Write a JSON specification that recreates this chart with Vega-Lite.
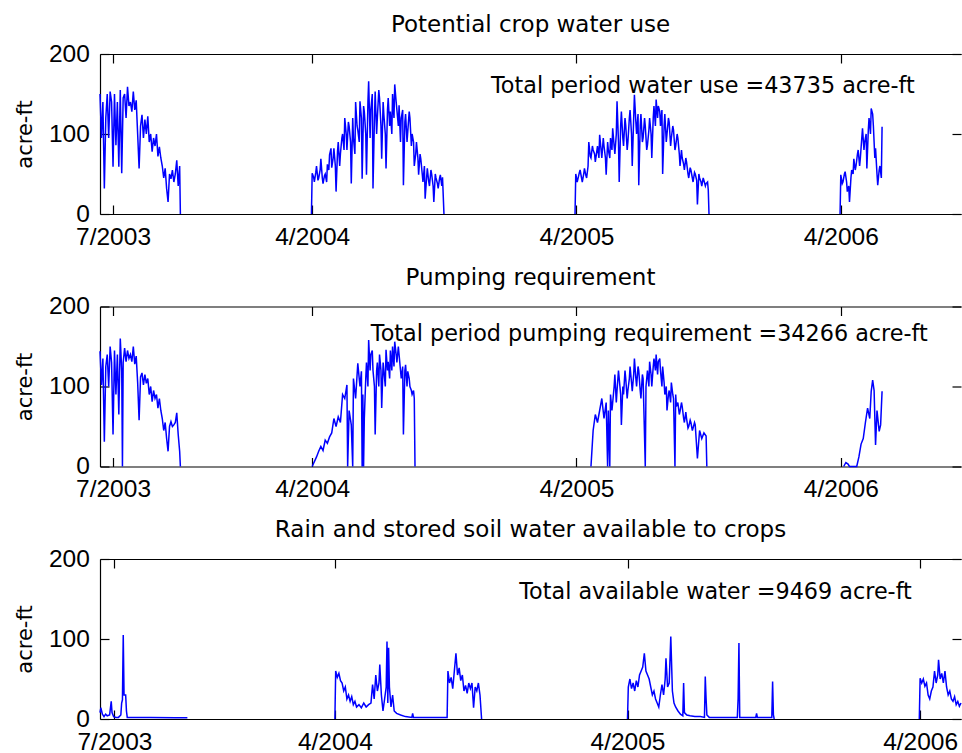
{
  "$schema": "https://vega.github.io/schema/vega-lite/v6.json",
  "padding": {"left": 14, "top": 14, "right": 0, "bottom": 0},
  "bounds": "flush",
  "spacing": 92.5,
  "config": {
    "font": "DejaVu Sans",
    "view": {"stroke": null},
    "axis": {"grid": false, "domainColor": "#000", "tickColor": "#000", "labelColor": "#000", "titleColor": "#000", "labelFont": "Liberation Sans", "labelFontSize": 24.5, "titleFontSize": 21, "titleFontWeight": "normal", "tickSize": -9, "zindex": 1, "labelFlush": false, "labelOverlap": false, "labelBound": false, "domainWidth": 1.2, "tickWidth": 1.2},
    "title": {"fontSize": 23, "fontWeight": "normal", "color": "#000", "anchor": "middle", "baseline": "alphabetic", "offset": 4, "frame": "group"}
  },
  "datasets": {
    "p1": [
      {"d":"2003-06-13","v":150},{"d":"2003-06-15","v":95},{"d":"2003-06-17","v":140},{"d":"2003-06-19","v":32},{"d":"2003-06-21","v":120},{"d":"2003-06-23","v":150},{"d":"2003-06-25","v":95},{"d":"2003-06-27","v":153},{"d":"2003-06-29","v":140},{"d":"2003-07-01","v":59},{"d":"2003-07-03","v":150},{"d":"2003-07-05","v":86},{"d":"2003-07-07","v":140},{"d":"2003-07-09","v":59},{"d":"2003-07-11","v":155},{"d":"2003-07-13","v":51},{"d":"2003-07-15","v":145},{"d":"2003-07-17","v":150},{"d":"2003-07-19","v":120},{"d":"2003-07-21","v":159},{"d":"2003-07-23","v":135},{"d":"2003-07-25","v":140},{"d":"2003-07-27","v":128},{"d":"2003-07-29","v":153},{"d":"2003-07-31","v":130},{"d":"2003-08-02","v":142},{"d":"2003-08-04","v":100},{"d":"2003-08-06","v":57},{"d":"2003-08-08","v":110},{"d":"2003-08-10","v":124},{"d":"2003-08-12","v":95},{"d":"2003-08-14","v":118},{"d":"2003-08-16","v":100},{"d":"2003-08-18","v":122},{"d":"2003-08-20","v":90},{"d":"2003-08-22","v":100},{"d":"2003-08-24","v":78},{"d":"2003-08-26","v":95},{"d":"2003-08-28","v":85},{"d":"2003-08-30","v":100},{"d":"2003-09-01","v":72},{"d":"2003-09-03","v":84},{"d":"2003-09-05","v":70},{"d":"2003-09-07","v":60},{"d":"2003-09-09","v":45},{"d":"2003-09-11","v":57},{"d":"2003-09-13","v":32},{"d":"2003-09-15","v":15},{"d":"2003-09-17","v":50},{"d":"2003-09-19","v":44},{"d":"2003-09-21","v":55},{"d":"2003-09-23","v":40},{"d":"2003-09-25","v":50},{"d":"2003-09-27","v":67},{"d":"2003-09-29","v":35},{"d":"2003-10-01","v":60},{"d":"2003-10-02","v":0},
      {"d":"2003-12-01","v":null},
      {"d":"2004-03-31","v":0},{"d":"2004-04-01","v":51},{"d":"2004-04-03","v":46},{"d":"2004-04-04","v":40},{"d":"2004-04-06","v":52},{"d":"2004-04-07","v":60},{"d":"2004-04-09","v":42},{"d":"2004-04-10","v":45},{"d":"2004-04-12","v":55},{"d":"2004-04-13","v":69},{"d":"2004-04-15","v":45},{"d":"2004-04-16","v":38},{"d":"2004-04-18","v":48},{"d":"2004-04-19","v":50},{"d":"2004-04-21","v":40},{"d":"2004-04-22","v":62},{"d":"2004-04-24","v":55},{"d":"2004-04-25","v":74},{"d":"2004-04-27","v":82},{"d":"2004-04-28","v":58},{"d":"2004-04-30","v":70},{"d":"2004-05-01","v":82},{"d":"2004-05-03","v":60},{"d":"2004-05-04","v":28},{"d":"2004-05-06","v":78},{"d":"2004-05-07","v":90},{"d":"2004-05-09","v":60},{"d":"2004-05-10","v":75},{"d":"2004-05-12","v":95},{"d":"2004-05-13","v":100},{"d":"2004-05-15","v":80},{"d":"2004-05-16","v":120},{"d":"2004-05-18","v":100},{"d":"2004-05-19","v":80},{"d":"2004-05-21","v":115},{"d":"2004-05-22","v":110},{"d":"2004-05-24","v":90},{"d":"2004-05-25","v":38},{"d":"2004-05-27","v":120},{"d":"2004-05-28","v":95},{"d":"2004-05-30","v":75},{"d":"2004-05-31","v":140},{"d":"2004-06-02","v":110},{"d":"2004-06-03","v":105},{"d":"2004-06-05","v":90},{"d":"2004-06-06","v":141},{"d":"2004-06-08","v":120},{"d":"2004-06-09","v":44},{"d":"2004-06-11","v":135},{"d":"2004-06-12","v":128},{"d":"2004-06-14","v":100},{"d":"2004-06-15","v":49},{"d":"2004-06-17","v":140},{"d":"2004-06-18","v":166},{"d":"2004-06-20","v":95},{"d":"2004-06-21","v":130},{"d":"2004-06-23","v":150},{"d":"2004-06-24","v":32},{"d":"2004-06-26","v":120},{"d":"2004-06-27","v":153},{"d":"2004-06-29","v":100},{"d":"2004-06-30","v":120},{"d":"2004-07-02","v":155},{"d":"2004-07-03","v":145},{"d":"2004-07-05","v":110},{"d":"2004-07-06","v":69},{"d":"2004-07-08","v":140},{"d":"2004-07-09","v":124},{"d":"2004-07-11","v":100},{"d":"2004-07-12","v":57},{"d":"2004-07-14","v":130},{"d":"2004-07-15","v":145},{"d":"2004-07-17","v":110},{"d":"2004-07-18","v":128},{"d":"2004-07-20","v":100},{"d":"2004-07-21","v":150},{"d":"2004-07-23","v":120},{"d":"2004-07-24","v":162},{"d":"2004-07-26","v":140},{"d":"2004-07-27","v":130},{"d":"2004-07-29","v":110},{"d":"2004-07-30","v":136},{"d":"2004-08-01","v":90},{"d":"2004-08-02","v":120},{"d":"2004-08-04","v":130},{"d":"2004-08-05","v":36},{"d":"2004-08-07","v":115},{"d":"2004-08-08","v":125},{"d":"2004-08-10","v":90},{"d":"2004-08-11","v":103},{"d":"2004-08-13","v":128},{"d":"2004-08-14","v":120},{"d":"2004-08-16","v":85},{"d":"2004-08-17","v":100},{"d":"2004-08-19","v":90},{"d":"2004-08-20","v":60},{"d":"2004-08-22","v":75},{"d":"2004-08-23","v":90},{"d":"2004-08-25","v":70},{"d":"2004-08-26","v":49},{"d":"2004-08-28","v":75},{"d":"2004-08-29","v":69},{"d":"2004-08-31","v":50},{"d":"2004-09-01","v":40},{"d":"2004-09-03","v":60},{"d":"2004-09-04","v":19},{"d":"2004-09-06","v":45},{"d":"2004-09-07","v":57},{"d":"2004-09-09","v":40},{"d":"2004-09-10","v":35},{"d":"2004-09-12","v":55},{"d":"2004-09-13","v":50},{"d":"2004-09-15","v":35},{"d":"2004-09-16","v":15},{"d":"2004-09-18","v":50},{"d":"2004-09-19","v":45},{"d":"2004-09-21","v":38},{"d":"2004-09-22","v":32},{"d":"2004-09-24","v":45},{"d":"2004-09-25","v":49},{"d":"2004-09-27","v":35},{"d":"2004-09-28","v":46},{"d":"2004-09-30","v":0},
      {"d":"2004-12-01","v":null},
      {"d":"2005-03-30","v":0},{"d":"2005-03-31","v":50},{"d":"2005-04-02","v":40},{"d":"2005-04-03","v":44},{"d":"2005-04-05","v":52},{"d":"2005-04-06","v":55},{"d":"2005-04-08","v":45},{"d":"2005-04-09","v":40},{"d":"2005-04-11","v":50},{"d":"2005-04-12","v":57},{"d":"2005-04-14","v":48},{"d":"2005-04-15","v":45},{"d":"2005-04-17","v":60},{"d":"2005-04-18","v":90},{"d":"2005-04-20","v":72},{"d":"2005-04-21","v":70},{"d":"2005-04-23","v":85},{"d":"2005-04-24","v":80},{"d":"2005-04-26","v":75},{"d":"2005-04-27","v":65},{"d":"2005-04-29","v":78},{"d":"2005-04-30","v":85},{"d":"2005-05-02","v":70},{"d":"2005-05-03","v":99},{"d":"2005-05-05","v":80},{"d":"2005-05-06","v":70},{"d":"2005-05-08","v":95},{"d":"2005-05-09","v":85},{"d":"2005-05-11","v":70},{"d":"2005-05-12","v":49},{"d":"2005-05-14","v":90},{"d":"2005-05-15","v":80},{"d":"2005-05-17","v":70},{"d":"2005-05-18","v":95},{"d":"2005-05-20","v":80},{"d":"2005-05-21","v":107},{"d":"2005-05-23","v":85},{"d":"2005-05-24","v":75},{"d":"2005-05-26","v":100},{"d":"2005-05-27","v":141},{"d":"2005-05-29","v":90},{"d":"2005-05-30","v":40},{"d":"2005-06-01","v":110},{"d":"2005-06-02","v":128},{"d":"2005-06-04","v":95},{"d":"2005-06-05","v":85},{"d":"2005-06-07","v":120},{"d":"2005-06-08","v":111},{"d":"2005-06-10","v":80},{"d":"2005-06-11","v":90},{"d":"2005-06-13","v":120},{"d":"2005-06-14","v":130},{"d":"2005-06-16","v":100},{"d":"2005-06-17","v":60},{"d":"2005-06-19","v":120},{"d":"2005-06-20","v":149},{"d":"2005-06-22","v":115},{"d":"2005-06-23","v":100},{"d":"2005-06-25","v":125},{"d":"2005-06-26","v":36},{"d":"2005-06-28","v":110},{"d":"2005-06-29","v":125},{"d":"2005-07-01","v":90},{"d":"2005-07-02","v":95},{"d":"2005-07-04","v":120},{"d":"2005-07-05","v":110},{"d":"2005-07-07","v":80},{"d":"2005-07-08","v":86},{"d":"2005-07-10","v":105},{"d":"2005-07-11","v":120},{"d":"2005-07-13","v":100},{"d":"2005-07-14","v":70},{"d":"2005-07-16","v":120},{"d":"2005-07-17","v":135},{"d":"2005-07-19","v":110},{"d":"2005-07-20","v":143},{"d":"2005-07-22","v":120},{"d":"2005-07-23","v":135},{"d":"2005-07-25","v":128},{"d":"2005-07-26","v":110},{"d":"2005-07-28","v":130},{"d":"2005-07-29","v":50},{"d":"2005-07-31","v":110},{"d":"2005-08-01","v":125},{"d":"2005-08-03","v":90},{"d":"2005-08-04","v":100},{"d":"2005-08-06","v":120},{"d":"2005-08-07","v":115},{"d":"2005-08-09","v":85},{"d":"2005-08-10","v":95},{"d":"2005-08-12","v":110},{"d":"2005-08-13","v":105},{"d":"2005-08-15","v":80},{"d":"2005-08-16","v":85},{"d":"2005-08-18","v":100},{"d":"2005-08-19","v":95},{"d":"2005-08-21","v":75},{"d":"2005-08-22","v":60},{"d":"2005-08-24","v":80},{"d":"2005-08-25","v":70},{"d":"2005-08-27","v":62},{"d":"2005-08-28","v":55},{"d":"2005-08-30","v":70},{"d":"2005-08-31","v":65},{"d":"2005-09-02","v":50},{"d":"2005-09-03","v":45},{"d":"2005-09-05","v":58},{"d":"2005-09-06","v":55},{"d":"2005-09-08","v":45},{"d":"2005-09-09","v":40},{"d":"2005-09-11","v":52},{"d":"2005-09-12","v":50},{"d":"2005-09-14","v":42},{"d":"2005-09-15","v":12},{"d":"2005-09-17","v":50},{"d":"2005-09-18","v":45},{"d":"2005-09-20","v":40},{"d":"2005-09-21","v":35},{"d":"2005-09-23","v":45},{"d":"2005-09-24","v":42},{"d":"2005-09-26","v":35},{"d":"2005-09-27","v":38},{"d":"2005-09-29","v":40},{"d":"2005-09-30","v":30},{"d":"2005-10-01","v":0},
      {"d":"2005-12-01","v":null},
      {"d":"2006-03-31","v":0},{"d":"2006-04-01","v":49},{"d":"2006-04-03","v":38},{"d":"2006-04-04","v":40},{"d":"2006-04-06","v":50},{"d":"2006-04-07","v":53},{"d":"2006-04-09","v":40},{"d":"2006-04-10","v":28},{"d":"2006-04-12","v":35},{"d":"2006-04-13","v":15},{"d":"2006-04-15","v":45},{"d":"2006-04-16","v":55},{"d":"2006-04-18","v":50},{"d":"2006-04-19","v":69},{"d":"2006-04-21","v":55},{"d":"2006-04-22","v":60},{"d":"2006-04-24","v":75},{"d":"2006-04-25","v":80},{"d":"2006-04-27","v":60},{"d":"2006-04-28","v":70},{"d":"2006-04-30","v":95},{"d":"2006-05-01","v":107},{"d":"2006-05-03","v":80},{"d":"2006-05-04","v":90},{"d":"2006-05-06","v":100},{"d":"2006-05-07","v":57},{"d":"2006-05-09","v":105},{"d":"2006-05-10","v":120},{"d":"2006-05-12","v":100},{"d":"2006-05-13","v":132},{"d":"2006-05-15","v":125},{"d":"2006-05-16","v":110},{"d":"2006-05-18","v":70},{"d":"2006-05-19","v":82},{"d":"2006-05-21","v":50},{"d":"2006-05-22","v":36},{"d":"2006-05-24","v":55},{"d":"2006-05-25","v":60},{"d":"2006-05-27","v":45},{"d":"2006-05-28","v":109}
    ],
    "p2": [
      {"d":"2003-06-13","v":144},{"d":"2003-06-15","v":102},{"d":"2003-06-17","v":135},{"d":"2003-06-19","v":31},{"d":"2003-06-21","v":125},{"d":"2003-06-23","v":140},{"d":"2003-06-25","v":100},{"d":"2003-06-27","v":150},{"d":"2003-06-29","v":130},{"d":"2003-07-01","v":40},{"d":"2003-07-03","v":145},{"d":"2003-07-05","v":90},{"d":"2003-07-07","v":140},{"d":"2003-07-09","v":65},{"d":"2003-07-11","v":160},{"d":"2003-07-13","v":120},{"d":"2003-07-14","v":0},{"d":"2003-07-15","v":130},{"d":"2003-07-17","v":148},{"d":"2003-07-19","v":131},{"d":"2003-07-21","v":145},{"d":"2003-07-23","v":135},{"d":"2003-07-25","v":140},{"d":"2003-07-27","v":131},{"d":"2003-07-29","v":150},{"d":"2003-07-31","v":128},{"d":"2003-08-02","v":138},{"d":"2003-08-04","v":105},{"d":"2003-08-06","v":58},{"d":"2003-08-08","v":112},{"d":"2003-08-10","v":117},{"d":"2003-08-12","v":102},{"d":"2003-08-14","v":115},{"d":"2003-08-16","v":104},{"d":"2003-08-18","v":110},{"d":"2003-08-20","v":90},{"d":"2003-08-22","v":100},{"d":"2003-08-24","v":81},{"d":"2003-08-26","v":95},{"d":"2003-08-28","v":85},{"d":"2003-08-30","v":90},{"d":"2003-09-01","v":73},{"d":"2003-09-03","v":85},{"d":"2003-09-05","v":70},{"d":"2003-09-07","v":60},{"d":"2003-09-09","v":45},{"d":"2003-09-11","v":55},{"d":"2003-09-13","v":35},{"d":"2003-09-15","v":19},{"d":"2003-09-17","v":50},{"d":"2003-09-19","v":56},{"d":"2003-09-21","v":50},{"d":"2003-09-23","v":52},{"d":"2003-09-25","v":55},{"d":"2003-09-27","v":67},{"d":"2003-09-29","v":40},{"d":"2003-10-01","v":19},{"d":"2003-10-02","v":0},
      {"d":"2003-12-01","v":null},
      {"d":"2004-04-01","v":0},{"d":"2004-04-03","v":4},{"d":"2004-04-05","v":8},{"d":"2004-04-07","v":12},{"d":"2004-04-10","v":19},{"d":"2004-04-13","v":25},{"d":"2004-04-16","v":20},{"d":"2004-04-19","v":33},{"d":"2004-04-22","v":29},{"d":"2004-04-25","v":37},{"d":"2004-04-28","v":42},{"d":"2004-05-01","v":60},{"d":"2004-05-04","v":50},{"d":"2004-05-07","v":62},{"d":"2004-05-10","v":55},{"d":"2004-05-13","v":90},{"d":"2004-05-16","v":85},{"d":"2004-05-19","v":102},{"d":"2004-05-20","v":0},{"d":"2004-05-22","v":70},{"d":"2004-05-25","v":52},{"d":"2004-05-27","v":0},{"d":"2004-05-28","v":110},{"d":"2004-05-31","v":85},{"d":"2004-06-03","v":129},{"d":"2004-06-06","v":100},{"d":"2004-06-08","v":119},{"d":"2004-06-09","v":0},{"d":"2004-06-10","v":90},{"d":"2004-06-11","v":0},{"d":"2004-06-12","v":60},{"d":"2004-06-14","v":110},{"d":"2004-06-15","v":130},{"d":"2004-06-17","v":100},{"d":"2004-06-18","v":158},{"d":"2004-06-20","v":120},{"d":"2004-06-21","v":140},{"d":"2004-06-23","v":145},{"d":"2004-06-24","v":120},{"d":"2004-06-26","v":100},{"d":"2004-06-27","v":40},{"d":"2004-06-29","v":120},{"d":"2004-06-30","v":130},{"d":"2004-07-02","v":100},{"d":"2004-07-03","v":140},{"d":"2004-07-05","v":120},{"d":"2004-07-06","v":73},{"d":"2004-07-08","v":130},{"d":"2004-07-09","v":120},{"d":"2004-07-11","v":100},{"d":"2004-07-12","v":146},{"d":"2004-07-14","v":120},{"d":"2004-07-15","v":131},{"d":"2004-07-17","v":110},{"d":"2004-07-18","v":145},{"d":"2004-07-20","v":120},{"d":"2004-07-21","v":150},{"d":"2004-07-23","v":125},{"d":"2004-07-24","v":156},{"d":"2004-07-26","v":140},{"d":"2004-07-27","v":130},{"d":"2004-07-29","v":150},{"d":"2004-07-30","v":140},{"d":"2004-08-01","v":120},{"d":"2004-08-02","v":110},{"d":"2004-08-04","v":125},{"d":"2004-08-05","v":40},{"d":"2004-08-07","v":120},{"d":"2004-08-08","v":127},{"d":"2004-08-10","v":100},{"d":"2004-08-11","v":119},{"d":"2004-08-13","v":110},{"d":"2004-08-14","v":100},{"d":"2004-08-16","v":95},{"d":"2004-08-17","v":90},{"d":"2004-08-19","v":95},{"d":"2004-08-20","v":85},{"d":"2004-08-21","v":0},
      {"d":"2004-12-01","v":null},
      {"d":"2005-04-21","v":0},{"d":"2005-04-24","v":45},{"d":"2005-04-27","v":65},{"d":"2005-04-30","v":55},{"d":"2005-05-03","v":70},{"d":"2005-05-06","v":85},{"d":"2005-05-09","v":60},{"d":"2005-05-12","v":80},{"d":"2005-05-14","v":0},{"d":"2005-05-15","v":70},{"d":"2005-05-17","v":0},{"d":"2005-05-18","v":90},{"d":"2005-05-20","v":70},{"d":"2005-05-21","v":80},{"d":"2005-05-23","v":100},{"d":"2005-05-24","v":115},{"d":"2005-05-26","v":80},{"d":"2005-05-27","v":95},{"d":"2005-05-29","v":120},{"d":"2005-05-30","v":110},{"d":"2005-06-01","v":90},{"d":"2005-06-02","v":52},{"d":"2005-06-04","v":100},{"d":"2005-06-05","v":90},{"d":"2005-06-07","v":120},{"d":"2005-06-08","v":110},{"d":"2005-06-10","v":85},{"d":"2005-06-11","v":95},{"d":"2005-06-13","v":110},{"d":"2005-06-14","v":125},{"d":"2005-06-16","v":105},{"d":"2005-06-17","v":94},{"d":"2005-06-19","v":115},{"d":"2005-06-20","v":135},{"d":"2005-06-22","v":110},{"d":"2005-06-23","v":100},{"d":"2005-06-25","v":125},{"d":"2005-06-26","v":120},{"d":"2005-06-28","v":95},{"d":"2005-06-29","v":85},{"d":"2005-07-01","v":115},{"d":"2005-07-02","v":110},{"d":"2005-07-05","v":0},{"d":"2005-07-06","v":100},{"d":"2005-07-08","v":120},{"d":"2005-07-10","v":100},{"d":"2005-07-11","v":131},{"d":"2005-07-13","v":115},{"d":"2005-07-14","v":100},{"d":"2005-07-16","v":125},{"d":"2005-07-17","v":135},{"d":"2005-07-19","v":120},{"d":"2005-07-20","v":140},{"d":"2005-07-22","v":115},{"d":"2005-07-23","v":131},{"d":"2005-07-25","v":135},{"d":"2005-07-26","v":120},{"d":"2005-07-28","v":100},{"d":"2005-07-29","v":125},{"d":"2005-07-31","v":105},{"d":"2005-08-01","v":90},{"d":"2005-08-03","v":100},{"d":"2005-08-04","v":70},{"d":"2005-08-06","v":90},{"d":"2005-08-07","v":95},{"d":"2005-08-09","v":80},{"d":"2005-08-10","v":105},{"d":"2005-08-12","v":90},{"d":"2005-08-13","v":85},{"d":"2005-08-15","v":0},{"d":"2005-08-16","v":90},{"d":"2005-08-17","v":75},{"d":"2005-08-19","v":80},{"d":"2005-08-21","v":65},{"d":"2005-08-22","v":69},{"d":"2005-08-24","v":80},{"d":"2005-08-25","v":75},{"d":"2005-08-27","v":60},{"d":"2005-08-28","v":55},{"d":"2005-08-30","v":68},{"d":"2005-08-31","v":60},{"d":"2005-09-02","v":48},{"d":"2005-09-03","v":50},{"d":"2005-09-05","v":58},{"d":"2005-09-06","v":55},{"d":"2005-09-08","v":45},{"d":"2005-09-09","v":48},{"d":"2005-09-11","v":55},{"d":"2005-09-12","v":52},{"d":"2005-09-15","v":10},{"d":"2005-09-18","v":45},{"d":"2005-09-21","v":35},{"d":"2005-09-24","v":42},{"d":"2005-09-27","v":38},{"d":"2005-09-28","v":0},
      {"d":"2005-12-01","v":null},
      {"d":"2006-04-05","v":0},{"d":"2006-04-08","v":5},{"d":"2006-04-11","v":3},{"d":"2006-04-13","v":0},{"d":"2006-04-23","v":0},{"d":"2006-04-26","v":12},{"d":"2006-04-29","v":28},{"d":"2006-05-02","v":35},{"d":"2006-05-05","v":55},{"d":"2006-05-08","v":73},{"d":"2006-05-11","v":60},{"d":"2006-05-13","v":94},{"d":"2006-05-15","v":108},{"d":"2006-05-17","v":95},{"d":"2006-05-19","v":27},{"d":"2006-05-21","v":70},{"d":"2006-05-24","v":44},{"d":"2006-05-26","v":52},{"d":"2006-05-28","v":94}
    ],
    "p3": [
      {"d":"2003-06-13","v":8},{"d":"2003-06-14","v":14},{"d":"2003-06-16","v":6},{"d":"2003-06-18","v":3},{"d":"2003-06-20","v":6},{"d":"2003-06-22","v":4},{"d":"2003-06-25","v":5},{"d":"2003-06-27","v":22},{"d":"2003-06-28","v":8},{"d":"2003-06-30","v":3},{"d":"2003-07-03","v":2},{"d":"2003-07-06","v":2},{"d":"2003-07-09","v":5},{"d":"2003-07-10","v":20},{"d":"2003-07-11","v":24},{"d":"2003-07-12","v":105},{"d":"2003-07-13","v":30},{"d":"2003-07-15","v":30},{"d":"2003-07-16","v":10},{"d":"2003-07-17","v":2},{"d":"2003-08-15","v":2},{"d":"2003-09-15","v":1.5},{"d":"2003-09-30","v":1.5},
      {"d":"2003-12-01","v":null},
      {"d":"2004-04-01","v":0},{"d":"2004-04-02","v":60},{"d":"2004-04-04","v":52},{"d":"2004-04-06","v":57},{"d":"2004-04-08","v":48},{"d":"2004-04-10","v":45},{"d":"2004-04-12","v":35},{"d":"2004-04-14","v":40},{"d":"2004-04-16","v":25},{"d":"2004-04-18","v":30},{"d":"2004-04-20","v":22},{"d":"2004-04-22","v":28},{"d":"2004-04-24","v":18},{"d":"2004-04-26","v":22},{"d":"2004-04-28","v":15},{"d":"2004-05-01","v":18},{"d":"2004-05-04","v":14},{"d":"2004-05-07","v":20},{"d":"2004-05-10","v":15},{"d":"2004-05-13","v":18},{"d":"2004-05-16","v":20},{"d":"2004-05-18","v":43},{"d":"2004-05-20","v":25},{"d":"2004-05-22","v":55},{"d":"2004-05-24","v":35},{"d":"2004-05-26","v":45},{"d":"2004-05-27","v":68},{"d":"2004-05-29","v":30},{"d":"2004-05-31","v":10},{"d":"2004-06-02","v":25},{"d":"2004-06-04","v":40},{"d":"2004-06-05","v":97},{"d":"2004-06-06","v":20},{"d":"2004-06-07","v":89},{"d":"2004-06-08","v":40},{"d":"2004-06-10","v":15},{"d":"2004-06-12","v":30},{"d":"2004-06-14","v":10},{"d":"2004-06-17","v":7},{"d":"2004-06-22","v":5},{"d":"2004-06-28","v":3},{"d":"2004-07-06","v":2},{"d":"2004-07-07","v":7},{"d":"2004-07-08","v":2},{"d":"2004-08-19","v":2},{"d":"2004-08-20","v":60},{"d":"2004-08-22","v":45},{"d":"2004-08-24","v":52},{"d":"2004-08-26","v":38},{"d":"2004-08-28","v":60},{"d":"2004-08-30","v":82},{"d":"2004-09-01","v":55},{"d":"2004-09-03","v":64},{"d":"2004-09-05","v":48},{"d":"2004-09-07","v":55},{"d":"2004-09-09","v":35},{"d":"2004-09-11","v":42},{"d":"2004-09-13","v":32},{"d":"2004-09-15","v":45},{"d":"2004-09-17","v":38},{"d":"2004-09-19","v":45},{"d":"2004-09-21","v":14},{"d":"2004-09-23","v":40},{"d":"2004-09-25","v":35},{"d":"2004-09-27","v":45},{"d":"2004-09-29","v":30},{"d":"2004-10-01","v":0},
      {"d":"2004-12-01","v":null},
      {"d":"2005-04-01","v":0},{"d":"2005-04-02","v":40},{"d":"2005-04-04","v":50},{"d":"2005-04-06","v":38},{"d":"2005-04-08","v":45},{"d":"2005-04-10","v":35},{"d":"2005-04-12","v":48},{"d":"2005-04-14","v":40},{"d":"2005-04-16","v":55},{"d":"2005-04-18","v":60},{"d":"2005-04-20","v":65},{"d":"2005-04-22","v":82},{"d":"2005-04-24","v":60},{"d":"2005-04-26","v":55},{"d":"2005-04-28","v":50},{"d":"2005-04-30","v":40},{"d":"2005-05-02","v":30},{"d":"2005-05-04","v":35},{"d":"2005-05-06","v":25},{"d":"2005-05-08","v":20},{"d":"2005-05-10","v":15},{"d":"2005-05-12","v":30},{"d":"2005-05-14","v":43},{"d":"2005-05-16","v":30},{"d":"2005-05-18","v":50},{"d":"2005-05-19","v":76},{"d":"2005-05-21","v":40},{"d":"2005-05-23","v":45},{"d":"2005-05-25","v":103},{"d":"2005-05-27","v":35},{"d":"2005-05-29","v":20},{"d":"2005-05-31","v":15},{"d":"2005-06-03","v":10},{"d":"2005-06-06","v":6},{"d":"2005-06-09","v":4},{"d":"2005-06-10","v":45},{"d":"2005-06-11","v":8},{"d":"2005-06-14","v":5},{"d":"2005-06-18","v":4},{"d":"2005-06-24","v":3},{"d":"2005-07-01","v":3},{"d":"2005-07-06","v":2},{"d":"2005-07-07","v":53},{"d":"2005-07-08","v":26},{"d":"2005-07-09","v":5},{"d":"2005-07-12","v":2},{"d":"2005-08-16","v":2},{"d":"2005-08-17","v":26},{"d":"2005-08-18","v":95},{"d":"2005-08-19","v":2},{"d":"2005-09-08","v":2},{"d":"2005-09-09","v":7},{"d":"2005-09-10","v":2},{"d":"2005-09-28","v":2},{"d":"2005-09-29","v":47},{"d":"2005-09-30","v":5},{"d":"2005-10-01","v":0},
      {"d":"2005-12-01","v":null},
      {"d":"2006-03-31","v":0},{"d":"2006-04-01","v":51},{"d":"2006-04-03","v":45},{"d":"2006-04-05","v":50},{"d":"2006-04-07","v":41},{"d":"2006-04-09","v":45},{"d":"2006-04-11","v":30},{"d":"2006-04-13","v":25},{"d":"2006-04-15","v":35},{"d":"2006-04-17","v":40},{"d":"2006-04-19","v":60},{"d":"2006-04-21","v":45},{"d":"2006-04-23","v":55},{"d":"2006-04-24","v":74},{"d":"2006-04-26","v":50},{"d":"2006-04-28","v":57},{"d":"2006-04-30","v":45},{"d":"2006-05-02","v":60},{"d":"2006-05-04","v":40},{"d":"2006-05-06","v":30},{"d":"2006-05-08","v":35},{"d":"2006-05-10","v":25},{"d":"2006-05-12","v":22},{"d":"2006-05-14","v":28},{"d":"2006-05-16","v":18},{"d":"2006-05-18","v":22},{"d":"2006-05-20","v":16},{"d":"2006-05-22","v":20}
    ]
  },
  "vconcat": [
    {
      "width": 861, "height": 160,
      "title": {"text": "Potential crop water use"},
      "layer": [
        {
          "data": {"name": "p1"},
          "mark": {"type": "line", "color": "#0000ff", "strokeWidth": 1.5},
          "encoding": {
            "x": {"field": "d", "type": "temporal", "scale": {"domain": [{"year": 2003, "month": 6, "date": 13}, {"year": 2006, "month": 9, "date": 14}], "nice": false},
                  "axis": {"orient": "bottom", "title": null, "format": "%-m/%Y", "labelPadding": 20.3, "values": [{"year": 2003, "month": 7, "date": 1}, {"year": 2004, "month": 4, "date": 1}, {"year": 2005, "month": 4, "date": 1}, {"year": 2006, "month": 4, "date": 1}]}},
            "y": {"field": "v", "type": "quantitative", "scale": {"domain": [0, 200], "nice": false},
                  "axis": {"orient": "left", "values": [0, 100, 200], "labelPadding": 19.7, "title": "acre-ft", "titleX": -69, "titleY": 80, "titleAngle": -90, "titleBaseline": "alphabetic", "titleAlign": "center"}}
          }
        },
        {
          "data": {"values": [{"d": "2004-12-04", "v": 151, "t": "Total period water use =43735 acre-ft"}]},
          "mark": {"type": "text", "align": "left", "baseline": "alphabetic", "fontSize": 22.3, "color": "#000"},
          "encoding": {
            "x": {"field": "d", "type": "temporal", "scale": {"domain": [{"year": 2003, "month": 6, "date": 13}, {"year": 2006, "month": 9, "date": 14}], "nice": false},
                  "axis": {"orient": "top", "title": null, "labels": false, "values": [{"year": 2003, "month": 7, "date": 1}, {"year": 2004, "month": 4, "date": 1}, {"year": 2005, "month": 4, "date": 1}, {"year": 2006, "month": 4, "date": 1}]}},
            "y": {"field": "v", "type": "quantitative", "scale": {"domain": [0, 200], "nice": false},
                  "axis": {"orient": "right", "values": [0, 100, 200], "labels": false, "domain": false, "title": null}},
            "text": {"field": "t"}
          }
        }
      ],
      "resolve": {"axis": {"x": "independent", "y": "independent"}}
    },
    {
      "width": 861, "height": 160,
      "title": {"text": "Pumping requirement"},
      "layer": [
        {
          "data": {"name": "p2"},
          "mark": {"type": "line", "color": "#0000ff", "strokeWidth": 1.5},
          "encoding": {
            "x": {"field": "d", "type": "temporal", "scale": {"domain": [{"year": 2003, "month": 6, "date": 13}, {"year": 2006, "month": 9, "date": 14}], "nice": false},
                  "axis": {"orient": "bottom", "title": null, "format": "%-m/%Y", "labelPadding": 20.3, "values": [{"year": 2003, "month": 7, "date": 1}, {"year": 2004, "month": 4, "date": 1}, {"year": 2005, "month": 4, "date": 1}, {"year": 2006, "month": 4, "date": 1}]}},
            "y": {"field": "v", "type": "quantitative", "scale": {"domain": [0, 200], "nice": false},
                  "axis": {"orient": "left", "values": [0, 100, 200], "labelPadding": 19.7, "title": "acre-ft", "titleX": -69, "titleY": 80, "titleAngle": -90, "titleBaseline": "alphabetic", "titleAlign": "center"}}
          }
        },
        {
          "data": {"values": [{"d": "2004-06-21", "v": 156.5, "t": "Total period pumping requirement =34266 acre-ft"}]},
          "mark": {"type": "text", "align": "left", "baseline": "alphabetic", "fontSize": 22.3, "color": "#000"},
          "encoding": {
            "x": {"field": "d", "type": "temporal", "scale": {"domain": [{"year": 2003, "month": 6, "date": 13}, {"year": 2006, "month": 9, "date": 14}], "nice": false},
                  "axis": {"orient": "top", "title": null, "labels": false, "values": [{"year": 2003, "month": 7, "date": 1}, {"year": 2004, "month": 4, "date": 1}, {"year": 2005, "month": 4, "date": 1}, {"year": 2006, "month": 4, "date": 1}]}},
            "y": {"field": "v", "type": "quantitative", "scale": {"domain": [0, 200], "nice": false},
                  "axis": {"orient": "right", "values": [0, 100, 200], "labels": false, "domain": false, "title": null}},
            "text": {"field": "t"}
          }
        }
      ],
      "resolve": {"axis": {"x": "independent", "y": "independent"}}
    },
    {
      "width": 861, "height": 160,
      "title": {"text": "Rain and stored soil water available to crops"},
      "layer": [
        {
          "data": {"name": "p3"},
          "mark": {"type": "line", "color": "#0000ff", "strokeWidth": 1.5},
          "encoding": {
            "x": {"field": "d", "type": "temporal", "scale": {"domain": [{"year": 2003, "month": 6, "date": 13}, {"year": 2006, "month": 5, "date": 22}], "nice": false},
                  "axis": {"orient": "bottom", "title": null, "format": "%-m/%Y", "labelPadding": 20.3, "values": [{"year": 2003, "month": 7, "date": 1}, {"year": 2004, "month": 4, "date": 1}, {"year": 2005, "month": 4, "date": 1}, {"year": 2006, "month": 4, "date": 1}]}},
            "y": {"field": "v", "type": "quantitative", "scale": {"domain": [0, 200], "nice": false},
                  "axis": {"orient": "left", "values": [0, 100, 200], "labelPadding": 19.7, "title": "acre-ft", "titleX": -69, "titleY": 80, "titleAngle": -90, "titleBaseline": "alphabetic", "titleAlign": "center"}}
          }
        },
        {
          "data": {"values": [{"d": "2004-11-17", "v": 149.6, "t": "Total available water =9469 acre-ft"}]},
          "mark": {"type": "text", "align": "left", "baseline": "alphabetic", "fontSize": 22.3, "color": "#000"},
          "encoding": {
            "x": {"field": "d", "type": "temporal", "scale": {"domain": [{"year": 2003, "month": 6, "date": 13}, {"year": 2006, "month": 5, "date": 22}], "nice": false},
                  "axis": {"orient": "top", "title": null, "labels": false, "values": [{"year": 2003, "month": 7, "date": 1}, {"year": 2004, "month": 4, "date": 1}, {"year": 2005, "month": 4, "date": 1}, {"year": 2006, "month": 4, "date": 1}]}},
            "y": {"field": "v", "type": "quantitative", "scale": {"domain": [0, 200], "nice": false},
                  "axis": {"orient": "right", "values": [0, 100, 200], "labels": false, "domain": false, "title": null}},
            "text": {"field": "t"}
          }
        }
      ],
      "resolve": {"axis": {"x": "independent", "y": "independent"}}
    }
  ]
}
